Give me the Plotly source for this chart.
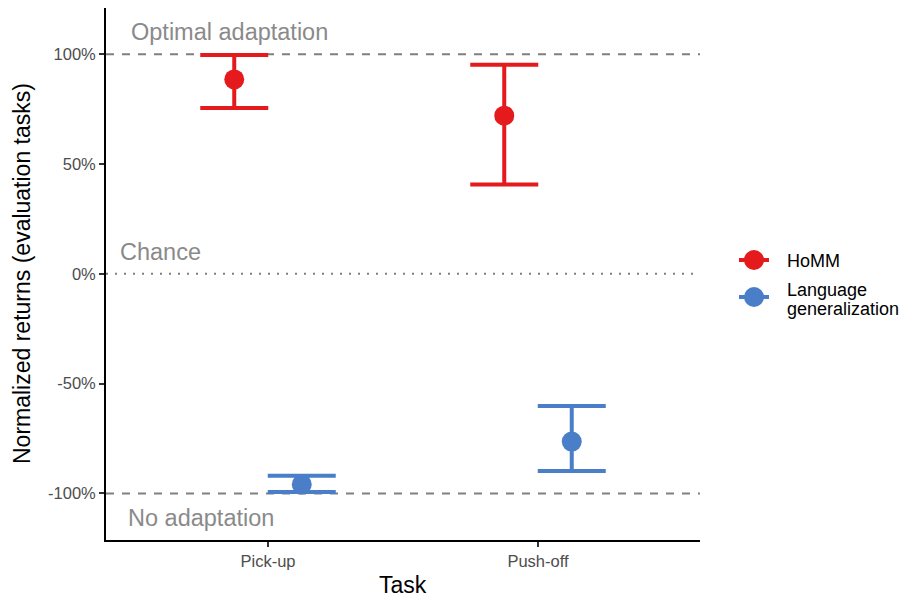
import plotly.graph_objects as go

# Tasks and model results (normalized returns, %)
tasks = ["Pick-up", "Push-off"]
models = ["HoMM", "Language generalization"]
legend_lines = [["HoMM"], ["Language", "generalization"]]
colors = ["#E41A1C", "#4A7EC8"]

homm_mean = [88.5, 72.0]
homm_low = [75.5, 40.7]
homm_high = [99.6, 95.2]

lang_mean = [-95.9, -76.4]
lang_low = [-99.3, -89.8]
lang_high = [-91.9, -60.2]

y_ticks = [-100, -50, 0, 50, 100]
y_tick_text = [f"{v}%" for v in y_ticks]

dodge = 0.125
task_pos = [1, 2]

series = [
    (models[0], colors[0], homm_mean, homm_low, homm_high, -dodge),
    (models[1], colors[1], lang_mean, lang_low, lang_high, dodge),
]

FONT = "Liberation Sans, Arial, sans-serif"
PLOT_W, PLOT_H = 594, 532   # plotting area size in px (902-106-202, 597-8-57)

fig = go.Figure()

# reference lines: optimal, chance, no adaptation
ref_lines = [(100, "8px,8px"), (0, "2px,7px"), (-100, "8px,8px")]
for yv, dash in ref_lines:
    fig.add_shape(type="line", xref="paper", x0=0, x1=1, yref="y", y0=yv, y1=yv,
                  line=dict(color="#808080", width=2, dash=dash), layer="below")

for name, col, mean, low, high, off in series:
    xs = [p + off for p in task_pos]
    fig.add_trace(go.Scatter(
        x=xs, y=mean, mode="markers", name=name, showlegend=False,
        marker=dict(color=col, size=20),
        error_y=dict(type="data", symmetric=False,
                     array=[h - m for h, m in zip(high, mean)],
                     arrayminus=[m - l for m, l in zip(mean, low)],
                     color=col, thickness=4, width=34),
    ))

label_font = dict(family=FONT, size=23.5, color="#8a8a8a")
fig.add_annotation(x=0.858, y=110, text="Optimal adaptation", showarrow=False,
                   font=label_font, xanchor="center", yanchor="middle")
fig.add_annotation(x=0.6, y=10, text="Chance", showarrow=False,
                   font=label_font, xanchor="center", yanchor="middle")
fig.add_annotation(x=0.75, y=-111, text="No adaptation", showarrow=False,
                   font=label_font, xanchor="center", yanchor="middle")

# axis titles
title_font = dict(family=FONT, size=23, color="#000000")
fig.add_annotation(xref="paper", yref="paper", x=0.5, y=0, yshift=-45,
                   text="Task", showarrow=False, font=title_font,
                   xanchor="center", yanchor="middle")
fig.add_annotation(xref="paper", yref="paper", x=0, y=0.5, xshift=-84,
                   text="Normalized returns (evaluation tasks)", showarrow=False,
                   font=title_font, textangle=-90,
                   xanchor="center", yanchor="middle")

# legend: pointrange keys (line through a dot) with compact two-line labels
key_x = 1 + 54 / PLOT_W                   # key centre, 54 px right of the panel
key_rows = [280 / PLOT_H, 243 / PLOT_H]   # key centres, px above panel bottom
line_shifts = [[-1], [6.5, -12.5]]        # label offsets from key centre, px
for lines, shifts, col, ky in zip(legend_lines, line_shifts, colors, key_rows):
    fig.add_shape(type="line", xref="paper", yref="paper",
                  xsizemode="pixel", ysizemode="pixel", xanchor=key_x, yanchor=ky,
                  x0=-15, x1=15, y0=0, y1=0, line=dict(color=col, width=4))
    fig.add_shape(type="circle", xref="paper", yref="paper",
                  xsizemode="pixel", ysizemode="pixel", xanchor=key_x, yanchor=ky,
                  x0=-10, x1=10, y0=-10, y1=10,
                  line=dict(color=col, width=0), fillcolor=col)
    for txt, dy in zip(lines, shifts):
        fig.add_annotation(xref="paper", yref="paper", x=key_x, y=ky,
                           xshift=31, yshift=dy, text=txt, showarrow=False,
                           font=dict(family=FONT, size=18, color="#000000"),
                           xanchor="left", yanchor="middle")

fig.update_layout(
    width=902, height=597,
    margin=dict(l=106, r=202, t=8, b=57, autoexpand=False),
    paper_bgcolor="white", plot_bgcolor="white",
    font=dict(family=FONT, color="#000000"),
    showlegend=False,
    xaxis=dict(
        range=[0.4, 2.6], tickvals=task_pos, ticktext=tasks,
        showline=True, linecolor="#000000", linewidth=1.8,
        ticks="outside", ticklen=5, tickwidth=1.5, tickcolor="#333333",
        tickfont=dict(size=16.5, color="#4d4d4d"),
        showgrid=False, zeroline=False, automargin=False,
    ),
    yaxis=dict(
        range=[-121.2, 121], tickvals=y_ticks, ticktext=y_tick_text,
        showline=True, linecolor="#000000", linewidth=1.8,
        ticks="outside", ticklen=5, tickwidth=1.5, tickcolor="#333333",
        tickfont=dict(size=16.5, color="#4d4d4d"),
        showgrid=False, zeroline=False, automargin=False,
    ),
)

fig.write_html("out.html")
